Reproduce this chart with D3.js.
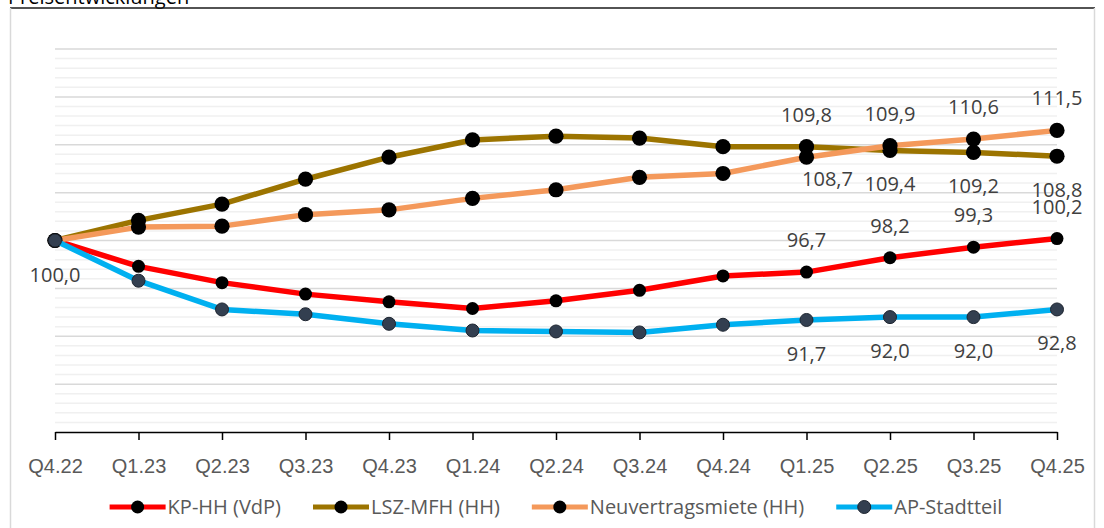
<!DOCTYPE html>
<html>
<head>
<meta charset="utf-8">
<script src="https://d3js.org/d3.v7.min.js"></script>
<style>
  body { margin: 0; background: #fff; }
  svg { display: block; font-family: "Open Sans", sans-serif; }
  .tick text { font-size: 20px; fill: #595959; }
  .lbl { font-size: 20px; fill: #404040; text-anchor: middle; }
  .leg text { font-size: 20px; fill: #595959; }
</style>
</head>
<body>
<script>
// quarters on the x axis
var categories = ["Q4.22", "Q1.23", "Q2.23", "Q3.23", "Q4.23", "Q1.24", "Q2.24",
                  "Q3.24", "Q4.24", "Q1.25", "Q2.25", "Q3.25", "Q4.25"];

// index values, Q4.22 = 100
var kpHH      = [100.0, 97.3, 95.6, 94.4, 93.6, 92.9, 93.7, 94.8, 96.3, 96.7, 98.2, 99.3, 100.2];
var lszMFH    = [100.0, 102.1, 103.8, 106.4, 108.7, 110.5, 110.9, 110.7, 109.8, 109.8, 109.4, 109.2, 108.8];
var neuMiete  = [100.0, 101.4, 101.5, 102.7, 103.2, 104.4, 105.3, 106.6, 107.0, 108.7, 109.9, 110.6, 111.5];
var apStadt   = [100.0, 95.8, 92.8, 92.3, 91.3, 90.6, 90.5, 90.4, 91.2, 91.7, 92.0, 92.0, 92.8];

var seriesNames = ["KP-HH (VdP)", "LSZ-MFH (HH)", "Neuvertragsmiete (HH)", "AP-Stadtteil"];

// which points carry a value label
var labelPoints = [
  {s: 3, i: 0, pos: "below"},
  {s: 1, i: 9, pos: "above"}, {s: 1, i: 10, pos: "below"}, {s: 1, i: 11, pos: "below"}, {s: 1, i: 12, pos: "below"},
  {s: 2, i: 9, pos: "below2"}, {s: 2, i: 10, pos: "above"}, {s: 2, i: 11, pos: "above"}, {s: 2, i: 12, pos: "above"},
  {s: 0, i: 9, pos: "above"}, {s: 0, i: 10, pos: "above"}, {s: 0, i: 11, pos: "above"}, {s: 0, i: 12, pos: "above"},
  {s: 3, i: 9, pos: "below"}, {s: 3, i: 10, pos: "below"}, {s: 3, i: 11, pos: "below"}, {s: 3, i: 12, pos: "below"}
];

var values = [kpHH, lszMFH, neuMiete, apStadt];
var styles = [
  {line: "#ff0000", fill: "#000000", stroke: "none", r: 6.5},
  {line: "#9c7400", fill: "#000000", stroke: "none", r: 7.6},
  {line: "#f4995b", fill: "#000000", stroke: "none", r: 7.6},
  {line: "#00b0f0", fill: "#333f50", stroke: "#1e2530", r: 6.5}
];
var offsets = {above: [0, -25], below: [0, 41], below2: [21, 29]};

var W = 1104, H = 528;
var svg = d3.select("body").append("svg").attr("width", W).attr("height", H);

// chart frame + cut-off title above it
svg.append("text").attr("x", 8).attr("y", 4).attr("font-size", 20).attr("fill", "#000")
  .text("Preisentwicklungen");
svg.append("line").attr("x1", 10).attr("x2", 1095).attr("y1", 8).attr("y2", 8)
  .attr("stroke", "#1a1a1a").attr("stroke-width", 1.6);
svg.append("line").attr("x1", 10.5).attr("x2", 10.5).attr("y1", 8).attr("y2", H)
  .attr("stroke", "#d9d9d9").attr("stroke-width", 1.5);
svg.append("line").attr("x1", 1094.5).attr("x2", 1094.5).attr("y1", 8).attr("y2", H)
  .attr("stroke", "#d9d9d9").attr("stroke-width", 1.5);

var x = d3.scalePoint().domain(categories).range([55, 1057]);
var y = d3.scaleLinear().domain([80, 120]).range([432, 49]);

// grid: light line every unit, darker every 5
var g_grid = svg.append("g");
g_grid.selectAll("line").data(d3.range(81, 121)).enter().append("line")
  .attr("x1", 55).attr("x2", 1057)
  .attr("y1", function(d) { return y(d); }).attr("y2", function(d) { return y(d); })
  .attr("stroke", function(d) { return d % 5 === 0 ? "#d9d9d9" : "#f0f0f0"; })
  .attr("stroke-width", 1.5);

var g_x = svg.append("g").attr("transform", "translate(0," + y(80) + ")")
  .call(d3.axisBottom(x).tickSize(8).tickSizeOuter(0));
g_x.select(".domain").attr("stroke", "#000").attr("stroke-width", 1.5);
g_x.selectAll(".tick line").attr("stroke", "#000").attr("stroke-width", 1.5);
g_x.selectAll(".tick text").attr("y", 41).attr("dy", null);

var line = d3.line()
  .x(function(d, i) { return x(categories[i]); })
  .y(function(d) { return y(d); });

values.forEach(function(vals, s) {
  var st = styles[s];
  svg.append("path").datum(vals)
    .attr("d", line).attr("fill", "none")
    .attr("stroke", st.line).attr("stroke-width", 5.5)
    .attr("stroke-linejoin", "round");
  svg.append("g").selectAll("circle").data(vals).enter().append("circle")
    .attr("cx", function(d, i) { return x(categories[i]); })
    .attr("cy", function(d) { return y(d); })
    .attr("r", st.r).attr("fill", st.fill)
    .attr("stroke", st.stroke).attr("stroke-width", 1);
});

var fmt = function(v) { return d3.format(".1f")(v).replace(".", ","); };
svg.append("g").selectAll("text").data(labelPoints).enter().append("text")
  .attr("class", "lbl")
  .attr("x", function(d) { return x(categories[d.i]) + offsets[d.pos][0]; })
  .attr("y", function(d) { return y(values[d.s][d.i]) + offsets[d.pos][1]; })
  .text(function(d) { return fmt(values[d.s][d.i]); });

// legend, centred under the plot
var leg = svg.append("g").attr("class", "leg");
var items = leg.selectAll("g").data(seriesNames).enter().append("g");
items.append("line").attr("x1", 0).attr("x2", 56).attr("y1", 0).attr("y2", 0)
  .attr("stroke", function(d, i) { return styles[i].line; }).attr("stroke-width", 5);
items.append("circle").attr("cx", 28).attr("cy", 0).attr("r", 6.5)
  .attr("fill", function(d, i) { return styles[i].fill; })
  .attr("stroke", function(d, i) { return styles[i].stroke; });
items.append("text").attr("x", 58).attr("y", 7).text(function(d) { return d; });
var pos = 0, xs = [];
items.each(function() {
  xs.push(pos);
  pos += 58 + d3.select(this).select("text").node().getComputedTextLength() + 32;
});
var total = pos - 32, startX = 556 - total / 2;
items.attr("transform", function(d, i) { return "translate(" + (startX + xs[i]) + ",507)"; });
</script>
</body>
</html>
